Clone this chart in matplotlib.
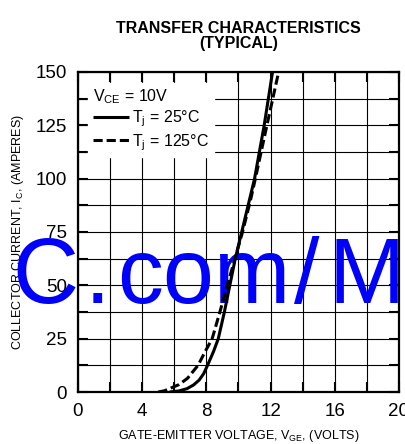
import matplotlib
matplotlib.use("Agg")
import matplotlib.pyplot as plt
from matplotlib.ticker import MultipleLocator

plt.rcParams['font.family'] = ['Liberation Sans', 'DejaVu Sans']
plt.rcParams['mathtext.fontset'] = 'custom'
plt.rcParams['mathtext.rm'] = 'Liberation Sans'
plt.rcParams['mathtext.it'] = 'Liberation Sans'
plt.rcParams['mathtext.default'] = 'regular'

# Data
vge_25 = [5.7, 6.3, 6.8, 7.2, 7.55, 7.83, 8.07, 8.44, 8.74, 9.12, 9.46, 9.8, 10.2, 10.68, 11.0, 11.6, 12.12]
ic_25 = [0, 0.5, 1.6, 3.3, 5.6, 8.6, 12.5, 18.9, 25, 37.5, 50, 62.5, 75, 90, 100, 125, 150]
vge_125 = [5.0, 5.4, 5.74, 6.3, 6.82, 7.1, 7.48, 7.92, 8.36, 8.84, 9.3, 9.78, 10.25, 10.75, 11.05, 11.77, 12.5]
ic_125 = [0, 0.6, 1.7, 3.5, 6.4, 9.0, 12.5, 18.9, 25, 37.5, 50, 62.5, 75, 90, 100, 125, 150]
label_25 = "T$_j$ = 25°C"
label_125 = "T$_j$ = 125°C"
legend_title = "V$_{CE}$ = 10V"
x_ticks = [0, 4, 8, 12, 16, 20]
y_ticks = [0, 25, 50, 75, 100, 125, 150]

fig = plt.figure(figsize=(4.06, 4.44), dpi=100)
ax = fig.add_axes([78/406, 1-392/444, 321/406, 320/444])

ax.plot(vge_25, ic_25, color='black', lw=2.2, solid_capstyle='butt', label=label_25, zorder=4)
ax.plot(vge_125, ic_125, color='black', lw=2.2, dashes=(3.0, 1.3), label=label_125, zorder=4)

ax.set_xlim(0, 20)
ax.set_ylim(0, 150)
ax.set_xticks(x_ticks)
ax.set_yticks(y_ticks)
ax.xaxis.set_minor_locator(MultipleLocator(2))
ax.yaxis.set_minor_locator(MultipleLocator(12.5))
ax.grid(which='both', color='black', lw=0.8, zorder=1)
ax.set_axisbelow(True)
ax.tick_params(which='both', direction='in', length=7, width=1.5, top=True, right=True,
               labelsize=13.5, colors='black')
ax.tick_params(axis='x', pad=8)
ax.tick_params(axis='y', pad=8)
for s in ax.spines.values():
    s.set_linewidth(1.6)

ax.set_xlabel("GATE-EMITTER VOLTAGE, V$_{GE}$, (VOLTS)", fontsize=9, labelpad=6)
ax.set_ylabel("COLLECTOR CURRENT, I$_C$, (AMPERES)", fontsize=9, labelpad=7)
ax.set_title("TRANSFER CHARACTERISTICS\n(TYPICAL)", fontsize=11.5, fontweight='bold',
             linespacing=1.0, pad=17)

leg = ax.legend(loc='upper left', bbox_to_anchor=(0.031, 0.967), borderaxespad=0,
                title=legend_title, alignment='left', fontsize=11.5, title_fontsize=11.5,
                frameon=True, fancybox=False, facecolor='white', edgecolor='white',
                framealpha=1, handlelength=2.3, handletextpad=0.15, labelspacing=0.17,
                borderpad=0.3)
leg.set_zorder(5)

# Watermark
wm_parts = ["C", ".", "com", "/", "M"]
wm_x = [45, 97.5, 204, 306.5, 366.5]
for t, xp in zip(wm_parts, wm_x):
    ax.text(xp/406, 1-303/444, t, transform=fig.transFigure, ha='center', va='baseline',
            fontsize=66, color='#0000ff', zorder=3, clip_on=False)

fig.savefig("out.png", dpi=100)
